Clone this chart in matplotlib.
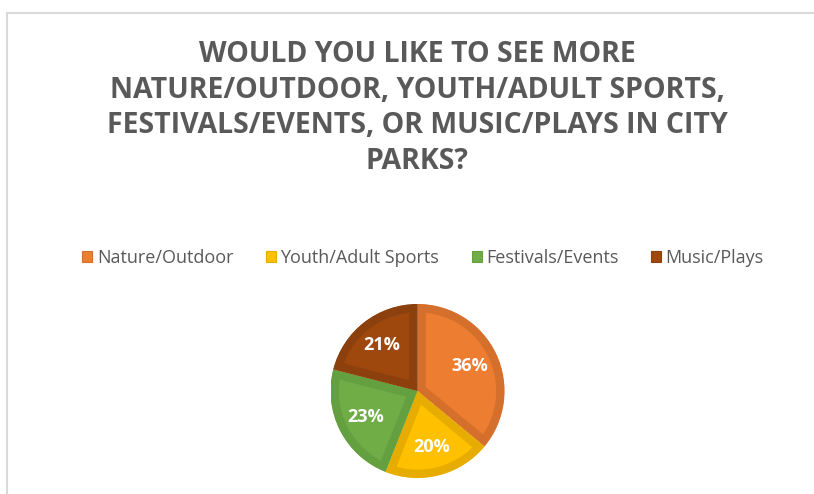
import matplotlib.pyplot as plt
from matplotlib.patches import Patch
from matplotlib.lines import Line2D

categories = ["Nature/Outdoor", "Youth/Adult Sports", "Festivals/Events", "Music/Plays"]
shares = [36, 20, 23, 21]
fills = ["#ED7D31", "#FFC000", "#70AD47", "#9E480E"]
edges = ["#D4702C", "#E6AD00", "#65A040", "#8C400D"]

title = ("WOULD YOU LIKE TO SEE MORE\nNATURE/OUTDOOR, YOUTH/ADULT SPORTS,\n"
         "FESTIVALS/EVENTS, OR MUSIC/PLAYS IN CITY\nPARKS?")

W, H = 814, 494
fig = plt.figure(figsize=(W / 100, H / 100), dpi=100)
plt.rcParams['font.family'] = ['Open Sans', 'DejaVu Sans']

# chart frame (cut off at right/bottom like the screenshot)
fig.add_artist(Line2D([7 / W, 1], [1 - 13 / H, 1 - 13 / H], color="#D9D9D9", lw=1.5))
fig.add_artist(Line2D([7 / W, 7 / W], [0, 1 - 13 / H], color="#D9D9D9", lw=1.5))

fig.text(417 / W, 1 - 108 / H, title, ha="center", va="center", fontsize=20.5,
         fontweight="bold", color="#595959", linespacing=1.3)

cx, cy, r = 417.5, 391, 87
ax = fig.add_axes([(cx - r) / W, (H - cy - r) / H, 2 * r / W, 2 * r / H])
wedges, texts, autotexts = ax.pie(shares, colors=fills, startangle=90, counterclock=False,
                                  autopct="%1.0f%%", pctdistance=0.67,
                                  textprops=dict(color="white", fontsize=13, fontweight="bold"))
# thick inner border like the Excel style: clip each wedge's edge to itself
for w, ec in zip(wedges, edges):
    w.set_edgecolor(ec)
    w.set_linewidth(12)
    w.set_clip_on(True)
    w.set_clip_path(w)
ax.set_xlim(-1, 1)
ax.set_ylim(-1, 1)
ax.set_aspect("equal")

handles = [Patch(facecolor=f, edgecolor=e, lw=0.8) for f, e in zip(fills, edges)]
leg = fig.legend(handles, categories, loc="center", bbox_to_anchor=(423 / W, 1 - 258 / H),
                 ncol=4, frameon=False, fontsize=13, handlelength=0.55, handleheight=0.55,
                 handletextpad=0.25, columnspacing=1.8)
for t in leg.get_texts():
    t.set_color("#595959")

fig.savefig("out.png", dpi=100)
